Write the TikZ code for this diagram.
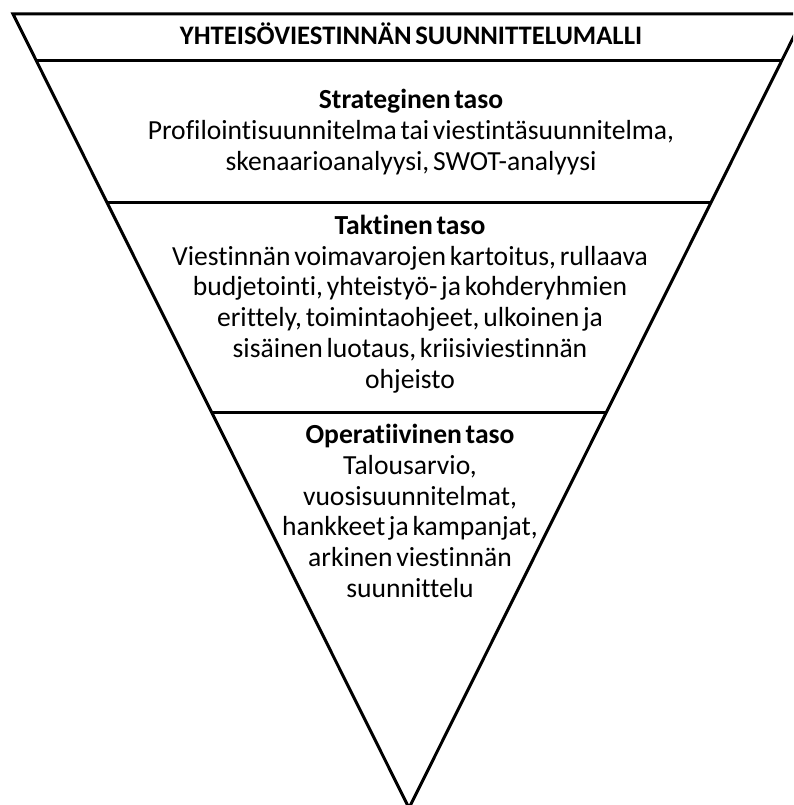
\documentclass[tikz,border=0pt]{standalone}
\usepackage{fontspec}
\setmainfont{Carlito}[Ligatures=NoCommon,WordSpace=0.6]
\usetikzlibrary{calc}

\begin{document}
\begin{tikzpicture}[x=1pt,y=-1pt,line width=3pt,
  levelbox/.style={align=center,inner sep=0pt,font=\fontsize{27.6}{30.7}\selectfont}]
\clip (0,0) rectangle (793,805);
% Triangle
\coordinate (tl) at (13,14);
\coordinate (tr) at (805,14);
\coordinate (apex) at (409,808);
\draw (tl) -- (tr) -- (apex) -- cycle;
% Level lines
\coordinate (a1) at ($(tl)!0.058!(apex)$);
\coordinate (b1) at ($(tr)!0.058!(apex)$);
\coordinate (a2) at ($(tl)!0.238!(apex)$);
\coordinate (b2) at ($(tr)!0.238!(apex)$);
\coordinate (a3) at ($(tl)!0.5025!(apex)$);
\coordinate (b3) at ($(tr)!0.5025!(apex)$);
\draw (a1) -- (b1);
\draw (a2) -- (b2);
\draw (a3) -- (b3);
% Title
\node[font=\fontsize{26.7}{30}\selectfont\bfseries] (title) at (411,34) {YHTEISÖVIESTINNÄN SUUNNITTELUMALLI};
% Strategic
\node[levelbox] (strat) at (411,132) {\textbf{Strateginen taso}\\
Profilointisuunnitelma tai viestintäsuunnitelma,\\
skenaarioanalyysi, SWOT-analyysi};
% Tactical
\node[levelbox] (takt) at (410,304) {\textbf{Taktinen taso}\\
Viestinnän voimavarojen kartoitus, rullaava\\
budjetointi, yhteistyö- ja kohderyhmien\\
erittely, toimintaohjeet, ulkoinen ja\\
sisäinen luotaus, kriisiviestinnän\\
ohjeisto};
% Operative
\node[levelbox] (oper) at (410,511) {\textbf{Operatiivinen taso}\\
Talousarvio,\\
vuosisuunnitelmat,\\
hankkeet ja kampanjat,\\
arkinen viestinnän\\
suunnittelu};
\end{tikzpicture}
\end{document}
